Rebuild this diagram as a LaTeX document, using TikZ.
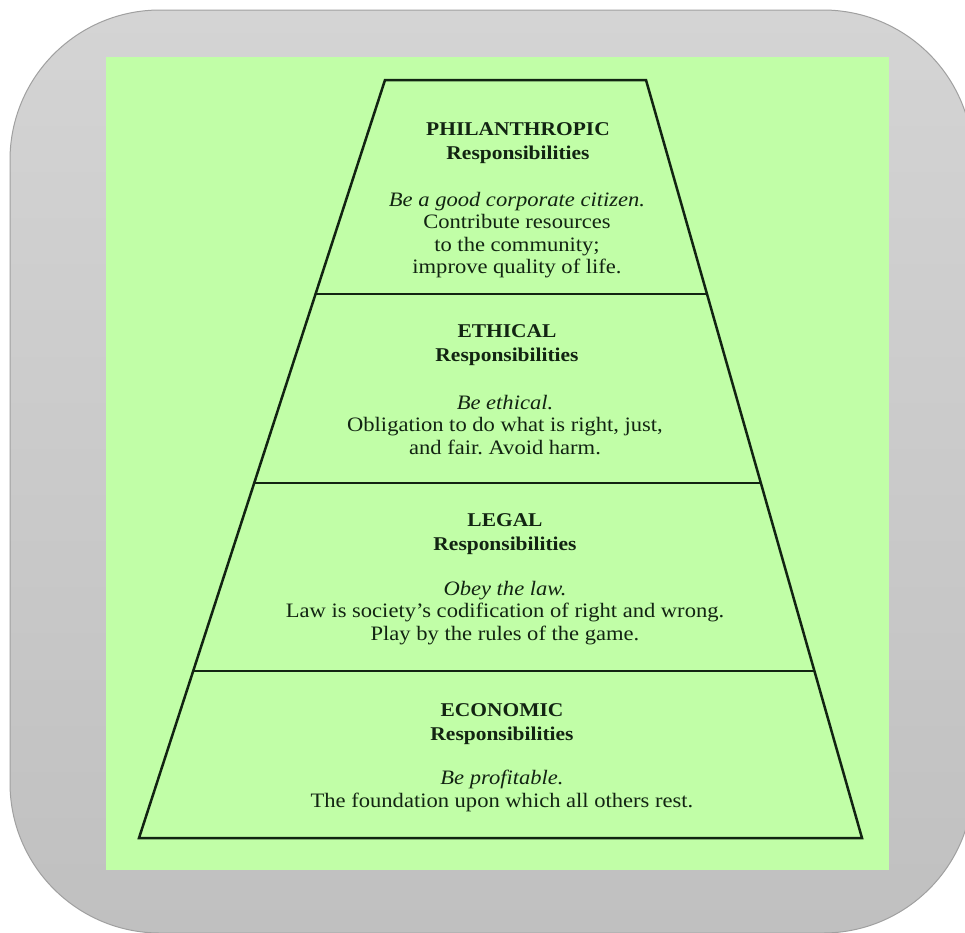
\documentclass[tikz,border=0pt]{standalone}
\usepackage{fontspec}
\setmainfont{Liberation Serif}[FakeStretch=1.1]
\frenchspacing
\definecolor{bgtop}{RGB}{212,212,212}
\definecolor{bgbot}{RGB}{192,192,192}
\definecolor{bgedge}{RGB}{160,160,160}
\definecolor{leaf}{RGB}{193,254,167}
\definecolor{ink}{RGB}{18,36,18}
\tikzset{
  pyr/.style={ink,line width=2.5pt},
  layertitle/.style={font=\fontsize{19.5}{23.5}\selectfont\bfseries,align=center,inner sep=0pt,text=ink},
  layertext/.style={font=\fontsize{20.5}{22.5}\selectfont,align=center,inner sep=0pt,text=ink}
}
\begin{document}
\begin{tikzpicture}[x=1pt,y=-1pt]
		\useasboundingbox (0,0) rectangle (965,932);
		\clip (0,0) rectangle (965,932);
		\fill[white] (0,0) rectangle (965,932);
		\shadedraw[top color=bgtop,bottom color=bgbot,draw=bgedge,line width=1pt,rounded corners=150pt] (10,10) rectangle (973,933);
		\fill[leaf] (106,57) rectangle (889,870);
		% pyramid and its layers
		\draw[pyr] (385,80)--(646,80)--(862,838)--(139,838)--cycle;
		\draw[pyr] (315.6,294)--(706.9,294);
		\draw[pyr] (254.2,483)--(760.7,483);
		\draw[pyr] (193.2,671)--(814.1,671);
		% texts
		\node[layertitle] (philtitle) at (518,143) {PHILANTHROPIC\\Responsibilities};
		\node[layertext] (philtext) at (517,235) {\textit{Be a good corporate citizen.}\\Contribute resources\\to the community;\\improve quality of life.};
		\node[layertitle] (ethtitle) at (507,345) {ETHICAL\\Responsibilities};
		\node[layertext] (ethtext) at (505,425) {\textit{Be ethical.}\\Obligation to do what is right, just,\\and fair. Avoid harm.};
		\node[layertitle] (legtitle) at (505,534) {LEGAL\\Responsibilities};
		\node[layertext] (legtext) at (505,613) {\textit{Obey the law.}\\Law is society's codification of right and wrong.\\Play by the rules of the game.};
		\node[layertitle] (ecotitle) at (502,724) {ECONOMIC\\Responsibilities};
		\node[layertext] (ecotext) at (502,791) {\textit{Be profitable.}\\The foundation upon which all others rest.};
	\end{tikzpicture}
\end{document}
